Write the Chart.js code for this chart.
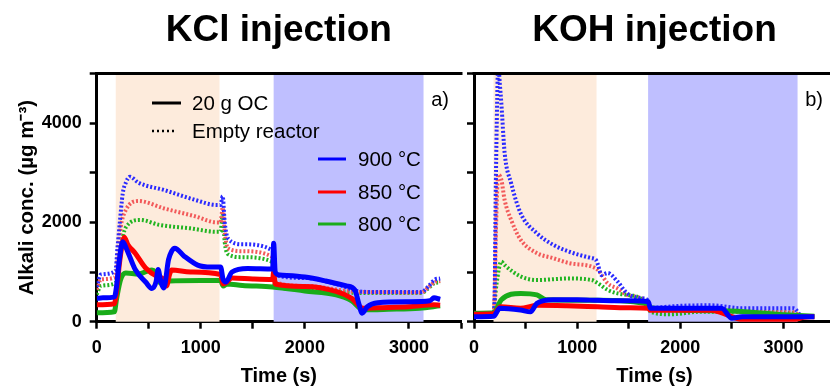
<!DOCTYPE html>
<html lang="en">
<head>
  <meta charset="UTF-8">
  <title>Alkali concentration – KCl and KOH injection</title>
  <script src="https://cdn.jsdelivr.net/npm/chart.js"></script>
  <style>
    body {
      margin: 0;
      background: #fff;
      width: 830px;
      height: 388px;
      overflow: hidden;
      position: relative;
    }
    canvas { position: absolute; top: 0; }
    #kclChart { left: 0; }
    #kohChart { left: 460px; }
  </style>
</head>
<body>

<canvas id="kclChart" width="470" height="388"></canvas>
<canvas id="kohChart" width="384" height="388"></canvas>

<script>
  // [time (s), alkali conc. (µg m-3)]
  // KCl injection, 20 g OC (solid)
  const kcl900OC = [[0,470],[60,480],[170,500],[190,700],[215,1200],[250,1610],[290,1450],[370,1050],[470,800],[530,670],[570,800],[590,1050],[615,820],[645,680],[690,1250],[720,1420],[750,1480],[840,1320],[970,1140],[1100,1100],[1190,1100],[1215,850],[1240,800],[1300,1000],[1450,1070],[1690,1060],[1700,1580],[1715,1000],[1760,940],[2000,900],[2200,820],[2400,720],[2480,640],[2520,350],[2550,170],[2600,300],[2700,380],[3000,400],[3200,420],[3240,480],[3300,450]];
  const kcl850OC = [[0,340],[170,360],[190,600],[220,1200],[265,1700],[300,1550],[370,1380],[470,1080],[590,900],[640,860],[670,720],[700,950],[720,1040],[900,1000],[1190,950],[1215,760],[1240,780],[1300,880],[1500,860],[1690,850],[1700,1000],[1715,760],[2000,710],[2300,610],[2450,470],[2560,270],[2700,280],[3000,300],[3240,340],[3300,330]];
  const kcl800OC = [[0,180],[170,200],[190,450],[230,850],[280,980],[400,960],[530,1040],[560,1000],[600,800],[650,760],[700,820],[1000,830],[1190,830],[1215,720],[1250,760],[1400,730],[1690,700],[2000,620],[2300,540],[2450,420],[2560,240],[2800,250],[3100,270],[3300,320]];
  // KCl injection, empty reactor (dotted)
  const kcl900E = [[0,700],[40,950],[180,1020],[200,1500],[220,1950],[250,2580],[280,2800],[320,2920],[400,2800],[650,2650],[950,2450],[1150,2350],[1190,2350],[1210,2530],[1230,2000],[1260,1680],[1400,1560],[1690,1430],[1710,950],[2000,880],[2300,760],[2500,620],[2600,600],[3120,600],[3190,720],[3250,850],[3300,870]];
  const kcl850E = [[0,650],[40,850],[180,900],[200,1300],[230,1900],[280,2250],[400,2430],[650,2280],[950,2120],[1150,2000],[1190,2000],[1210,2300],[1230,1800],[1260,1480],[1400,1420],[1690,1300],[1710,800],[2000,720],[2400,620],[2500,600],[3120,590],[3190,700],[3250,800],[3300,820]];
  const kcl800E = [[0,550],[40,720],[180,780],[200,1000],[230,1500],[280,1900],[420,2050],[600,1950],[900,1880],[1150,1810],[1190,1810],[1210,2150],[1230,1600],[1260,1360],[1400,1300],[1690,1200],[1710,720],[2000,650],[2400,590],[2500,580],[3120,580],[3190,680],[3250,780],[3300,790]];

  // KOH injection, 20 g OC (solid)
  const koh900OC = [[0,100],[190,110],[250,270],[450,235],[547,200],[610,370],[766,440],[1000,440],[1200,430],[1500,420],[1690,400],[1710,270],[2400,270],[2500,70],[2600,100],[3300,100]];
  const koh850OC = [[0,150],[190,160],[260,300],[450,270],[610,330],[900,320],[1200,300],[1500,280],[1690,270],[1710,230],[2300,230],[2500,100],[2600,40],[3100,40],[3200,90],[3300,100]];
  const koh800OC = [[0,170],[190,180],[265,440],[453,570],[610,540],[700,440],[1200,430],[1690,350],[1710,280],[2400,220],[3000,140],[3300,110]];
  // KOH injection, empty reactor (dotted)
  const koh900E = [[0,100],[190,110],[200,500],[210,2500],[225,4500],[234,5200],[250,4800],[265,4400],[297,3400],[360,2790],[453,2180],[610,1780],[766,1550],[922,1410],[1140,1280],[1180,1250],[1203,1140],[1234,940],[1297,980],[1391,810],[1485,570],[1600,480],[1680,440],[1710,280],[2000,320],[2300,330],[2600,270],[3100,270],[3175,120],[3300,110]];
  const koh850E = [[0,150],[190,160],[200,600],[215,2000],[234,2960],[265,2860],[297,2450],[360,2050],[453,1650],[610,1380],[766,1280],[922,1180],[1140,1110],[1203,1040],[1297,770],[1391,670],[1485,540],[1680,400],[1710,270],[2000,260],[2400,240],[2600,200],[3100,190],[3175,110],[3300,110]];
  const koh800E = [[0,170],[190,180],[205,500],[219,770],[265,1210],[297,1140],[453,910],[610,840],[922,870],[1140,840],[1203,770],[1297,640],[1391,570],[1680,370],[1710,200],[1900,150],[2200,200],[2600,200],[3100,170],[3175,110],[3300,110]];

  // shaded periods [from, to] in s
  const kclOrange = [183, 1180];
  const kclBlue = [1700, 3140];
  const kohOrange = [189, 1188];
  const kohBlue = [1688, 3137];

  const tempLabels = ['900 °C', '850 °C', '800 °C'];
  const typeLabels = ['20 g OC', 'Empty reactor'];

  const FONT = "'Liberation Sans', Arial, sans-serif";
  const BLUE = '#0000ff', RED = '#ff0000', GREEN = '#19ac19';
  const BLUE_D = '#2a2aff', RED_D = '#f25a5a', GREEN_D = '#22b422';
  const ORANGE_BG = '#fdebdc', BLUE_BG = '#bfbfff';

  const toXY = arr => arr.map(([x, y]) => ({ x, y }));

  function solid(data, color) {
    return { data: toXY(data), borderColor: color, borderWidth: 5, pointRadius: 0, cubicInterpolationMode: 'monotone' };
  }
  function dotted(data, color) {
    return { data: toXY(data), borderColor: color, borderWidth: 4, borderDash: [2, 2], pointRadius: 0, cubicInterpolationMode: 'monotone' };
  }

  const bandPlugin = {
    id: 'bands',
    beforeDatasetsDraw(chart, args, opts) {
      const { ctx, chartArea: a, scales: { x } } = chart;
      ctx.save();
      opts.bands.forEach(b => {
        const x0 = x.getPixelForValue(b.range[0]);
        const x1 = x.getPixelForValue(b.range[1]);
        ctx.fillStyle = b.color;
        ctx.fillRect(x0, a.top, x1 - x0, a.bottom - a.top);
      });
      ctx.restore();
    },
    afterDraw(chart, args, opts) {
      const { ctx, chartArea: a } = chart;
      ctx.save();
      // top frame line
      ctx.strokeStyle = '#000';
      ctx.lineWidth = 3;
      ctx.beginPath();
      ctx.moveTo(a.left - 1.5, a.top);
      ctx.lineTo(a.right + 1.5, a.top);
      ctx.stroke();
      // panel letter
      ctx.fillStyle = '#000';
      ctx.font = '20px ' + FONT;
      ctx.textAlign = 'right';
      ctx.textBaseline = 'middle';
      ctx.fillText(opts.letter, a.right - 12, 100);
      ctx.restore();
    }
  };

  const legendPlugin = {
    id: 'manualLegend',
    afterDraw(chart) {
      const { ctx } = chart;
      ctx.save();
      ctx.font = '20.5px ' + FONT;
      ctx.fillStyle = '#000';
      ctx.textBaseline = 'middle';
      ctx.textAlign = 'left';

      ctx.strokeStyle = '#000';
      ctx.lineWidth = 3;
      ctx.beginPath(); ctx.moveTo(152, 103); ctx.lineTo(181, 103); ctx.stroke();
      ctx.fillText(typeLabels[0], 192, 104);

      ctx.lineWidth = 2.5;
      ctx.setLineDash([2, 3]);
      ctx.beginPath(); ctx.moveTo(152, 131); ctx.lineTo(177, 131); ctx.stroke();
      ctx.setLineDash([]);
      ctx.fillText(typeLabels[1], 192, 132);

      const cols = [BLUE, RED, GREEN];
      const ys = [159, 192, 224];
      ctx.lineWidth = 3;
      tempLabels.forEach((t, i) => {
        ctx.strokeStyle = cols[i];
        ctx.beginPath(); ctx.moveTo(318, ys[i]); ctx.lineTo(346, ys[i]); ctx.stroke();
        ctx.fillText(t, 358, ys[i] + 1);
      });
      ctx.restore();
    }
  };

  function xScale(showTitle) {
    return {
      type: 'linear',
      min: 0,
      max: 3500,
      afterFit: s => { s.height = 66.3; },
      border: { display: true, color: '#000', width: 3 },
      grid: { drawOnChartArea: false, drawTicks: true, tickLength: 7, tickWidth: 2.5, tickColor: '#000' },
      ticks: {
        stepSize: 500,
        padding: 9,
        maxRotation: 0,
        autoSkip: false,
        color: '#000',
        font: { family: FONT, size: 18, weight: 'bold' },
        callback: v => (v % 1000 === 0 && v <= 3000 ? String(v) : '')
      },
      title: {
        display: showTitle,
        text: 'Time (s)',
        color: '#000',
        font: { family: FONT, size: 20, weight: 'bold' },
        padding: { top: 0, bottom: 0 }
      }
    };
  }

  function yScale(isLeft) {
    return {
      min: 0,
      max: 5000,
      afterFit: s => { s.width = isLeft ? 96.7 : 8.3; },
      border: { display: true, color: '#000', width: 3 },
      grid: { drawOnChartArea: false, drawTicks: true, tickLength: 7, tickWidth: 2.5, tickColor: '#000' },
      ticks: {
        display: isLeft,
        stepSize: 1000,
        padding: 8,
        color: '#000',
        font: { family: FONT, size: 18, weight: 'bold' },
        callback: v => (v % 2000 === 0 && v < 5000 ? String(v) : '')
      },
      title: {
        display: isLeft,
        text: 'Alkali conc. (µg m⁻³)',
        color: '#000',
        font: { family: FONT, size: 20.5, weight: 'bold' },
        padding: { top: 15, bottom: 0 }
      }
    };
  }

  function makeChart(id, title, sets, bands, letter, isLeft) {
    const plugins = [bandPlugin];
    if (isLeft) plugins.push(legendPlugin);
    return new Chart(document.getElementById(id), {
      type: 'line',
      data: {
        datasets: [
          solid(sets[0], BLUE), solid(sets[1], RED), solid(sets[2], GREEN),
          dotted(sets[3], BLUE_D), dotted(sets[4], RED_D), dotted(sets[5], GREEN_D)
        ]
      },
      options: {
        responsive: false,
        animation: false,
        layout: { padding: { left: 0, right: isLeft ? 3 : 5, top: 0, bottom: 0 } },
        scales: { x: xScale(true), y: yScale(isLeft) },
        plugins: {
          legend: { display: false },
          tooltip: { enabled: false },
          title: {
            display: true,
            text: title,
            fullSize: false,
            color: '#000',
            font: { family: FONT, size: 37, weight: 'bold' },
            padding: { top: 9, bottom: 20 }
          },
          bands: {
            letter: letter,
            bands: [
              { range: bands[0], color: ORANGE_BG },
              { range: bands[1], color: BLUE_BG }
            ]
          }
        }
      },
      plugins: plugins
    });
  }

  makeChart('kclChart', 'KCl injection',
    [kcl900OC, kcl850OC, kcl800OC, kcl900E, kcl850E, kcl800E],
    [kclOrange, kclBlue], 'a)', true);

  makeChart('kohChart', 'KOH injection',
    [koh900OC, koh850OC, koh800OC, koh900E, koh850E, koh800E],
    [kohOrange, kohBlue], 'b)', false);
</script>

</body>
</html>
